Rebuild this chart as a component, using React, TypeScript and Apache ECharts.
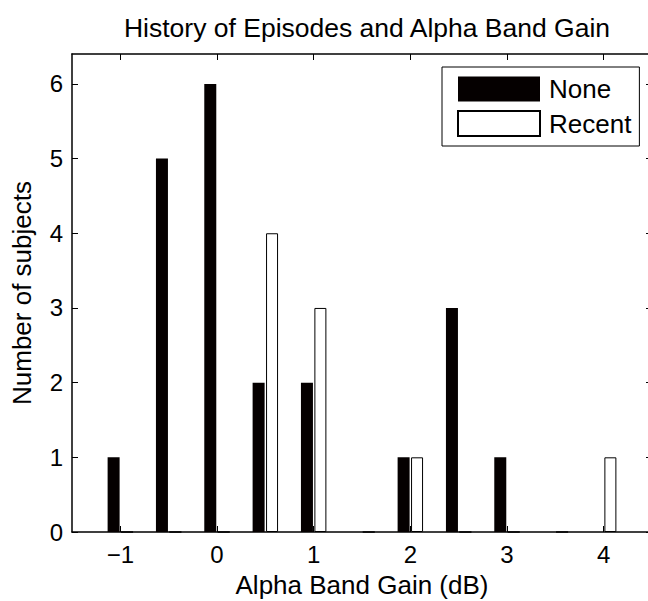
import React, { useEffect, useRef } from "react";
import * as echarts from "echarts";

// Histogram bin centres (dB) and subject counts per group
const binCenters = [-1, -0.5, 0, 0.5, 1, 1.5, 2, 2.5, 3, 3.5, 4];
const noneCounts = [1, 5, 6, 2, 2, 0, 1, 3, 1, 0, 0];
const recentCounts = [0, 0, 0, 4, 3, 0, 1, 0, 0, 0, 1];

const xTicks = [-1, 0, 1, 2, 3, 4];
const yTicks = [0, 1, 2, 3, 4, 5, 6];

const FONT = "'Liberation Sans', Arial, Helvetica, sans-serif";

const fmtX = (v: number) => (v < 0 ? "\u2212" + Math.abs(v) : String(v));

export default function App() {
  const ref = useRef<HTMLDivElement>(null);

  useEffect(() => {
    if (!ref.current) return;
    const chart = echarts.init(ref.current, undefined, { renderer: "svg" });

    const line = { lineStyle: { color: "#000", width: 1.5 } };
    const tick = (vals: number[]) => ({
      inside: true,
      length: 6,
      customValues: vals,
      lineStyle: { color: "#000", width: 1 },
    });

    chart.setOption({
      animation: false,
      backgroundColor: "#fff",
      title: {
        text: "History of Episodes and Alpha Band Gain",
        left: 362,
        textAlign: "center",
        top: 9,
        textStyle: { fontFamily: FONT, fontSize: 26.5, fontWeight: "normal", color: "#000" },
      },
      legend: {
        orient: "vertical",
        left: 442,
        top: 67,
        itemWidth: 82,
        itemHeight: 25,
        itemGap: 8,
        padding: [9, 8, 9, 15],
        borderColor: "#000",
        borderWidth: 1,
        icon: "rect",
        textStyle: { fontFamily: FONT, fontSize: 26, color: "#000", padding: [0, 0, 0, 4] },
        data: ["None", "Recent"],
      },
      grid: { left: 72, top: 54, right: -4, bottom: 69, outerBoundsMode: "none" },
      xAxis: [
        {
          type: "value",
          min: -1.5,
          max: 4.5,
          position: "bottom",
          axisLine: { show: true, onZero: false, ...line },
          axisTick: tick(xTicks),
          axisLabel: {
            customValues: xTicks,
            formatter: fmtX,
            margin: 10,
            fontFamily: FONT,
            fontSize: 24,
            color: "#000",
          },
          splitLine: { show: false },
          name: "Alpha Band Gain (dB)",
          nameLocation: "middle",
          nameGap: 40,
          nameTextStyle: { fontFamily: FONT, fontSize: 26, color: "#000" },
        },
        {
          type: "value",
          min: -1.5,
          max: 4.5,
          position: "top",
          axisLine: { show: true, onZero: false, ...line },
          axisTick: tick(xTicks),
          axisLabel: { show: false },
          splitLine: { show: false },
        },
      ],
      yAxis: [
        {
          type: "value",
          min: 0,
          max: 6.4,
          position: "left",
          axisLine: { show: true, onZero: false, ...line },
          axisTick: tick(yTicks),
          axisLabel: {
            customValues: yTicks,
            margin: 9,
            fontFamily: FONT,
            fontSize: 24,
            color: "#000",
          },
          splitLine: { show: false },
          name: "Number of subjects",
          nameLocation: "middle",
          nameGap: 37,
          nameTextStyle: { fontFamily: FONT, fontSize: 26, color: "#000" },
        },
        {
          type: "value",
          min: 0,
          max: 6.4,
          position: "right",
          axisLine: { show: true, onZero: false, ...line },
          axisTick: tick(yTicks),
          axisLabel: { show: false },
          splitLine: { show: false },
        },
      ],
      series: [
        {
          name: "None",
          type: "bar",
          xAxisIndex: 0,
          yAxisIndex: 0,
          barWidth: 12,
          barGap: "12%",
          itemStyle: { color: "#050000", borderColor: "#050000", borderWidth: 0 },
          data: binCenters.map((x, i) => [x, noneCounts[i]]),
        },
        {
          name: "Recent",
          type: "bar",
          xAxisIndex: 0,
          yAxisIndex: 0,
          barWidth: 12,
          barGap: "12%",
          itemStyle: { color: "#fff", borderColor: "#000", borderWidth: 1 },
          data: binCenters.map((x, i) => [x, recentCounts[i]]),
        },
      ],
    });

    return () => chart.dispose();
  }, []);

  return (
    <div
      ref={ref}
      style={{ position: "fixed", left: 0, top: 0, width: 648, height: 601, overflow: "hidden" }}
    />
  );
}
